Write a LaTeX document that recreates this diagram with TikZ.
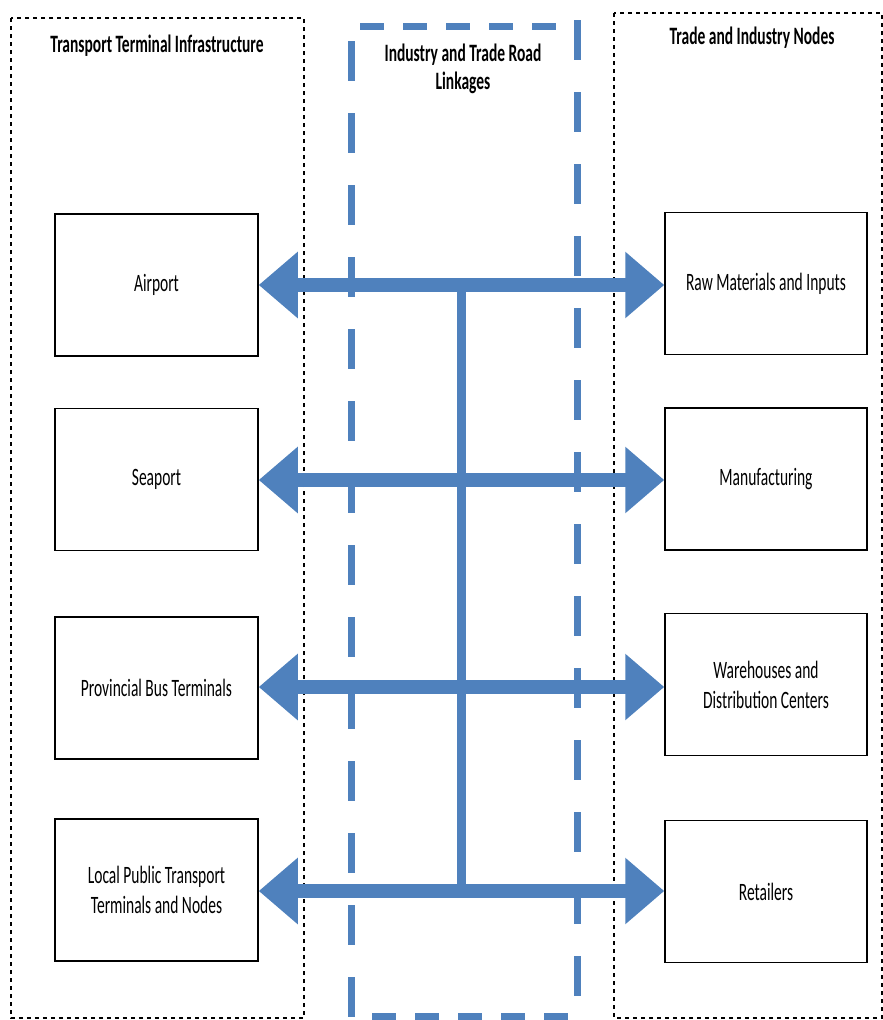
\documentclass[tikz,border=0pt]{standalone}
\usepackage{fontspec}
\newfontfamily\diagfont{Carlito}[FakeStretch=0.62]
\usetikzlibrary{positioning,arrows.meta}
\definecolor{roadblue}{RGB}{79,129,189}

\begin{document}
\begin{tikzpicture}[x=1pt, y=-1pt,
    font=\diagfont\fontsize{25}{30}\selectfont,
    terminal/.style={draw, line width=1.5pt, minimum width=203pt, minimum height=142pt,
        inner sep=2pt, align=center},
    group/.style={draw, line width=1.1pt, dash pattern=on 4pt off 4pt},
    heading/.style={font=\diagfont\bfseries\fontsize{25}{28}\selectfont, align=center},
    road/.style={draw=roadblue, line width=14pt, -{Triangle[length=39pt,width=64pt]}},
    trunk/.style={draw=roadblue, line width=9pt},
    linkh/.style={draw=roadblue, line width=7pt, dash pattern=on 24pt off 19pt},
    linkv/.style={draw=roadblue, line width=7pt, dash pattern=on 40pt off 32pt}]
    \useasboundingbox (0,0) rectangle (883,1020);

    % groups
    \draw[group] (11,18) rectangle (304,1018);
    \draw[group] (614,13) rectangle (882,1018);
    \draw[linkh] (360,26) -- (560,26);
    \draw[linkh] (372,1016) -- (570,1016);
    \draw[linkv] (351,41) -- (351,1020);
    \draw[linkv] (577,20) -- (577,1006);

    \node[heading] (termhead) at (157,46) {Transport Terminal Infrastructure};
    \node[heading] (linkhead) at (463,69) {Industry and Trade Road\\Linkages};
    \node[heading] (tradehead) at (752,38) {Trade and Industry Nodes};

    % terminals
    \node[terminal] (airport) at (156.5,285) {Airport};
    \node[terminal, below=51pt of airport] (seaport) {Seaport};
    \node[terminal, below=65pt of seaport] (busterm) {Provincial Bus Terminals};
    \node[terminal, below=58.5pt of busterm] (localpt) {Local Public Transport\\Terminals and Nodes};

    % trade nodes
    \node[terminal, minimum width=202pt] (rawmat) at (766,283.5) {Raw Materials and Inputs};
    \node[terminal, minimum width=202pt, below=52pt of rawmat] (manuf) {Manufacturing};
    \node[terminal, minimum width=202pt, below=62pt of manuf] (warehouse) {Warehouses and\\Distribution Centers};
    \node[terminal, minimum width=202pt, below=63.5pt of warehouse] (retail) {Retailers};

    % road linkages
    \coordinate (j1) at (461,285);
    \coordinate (j2) at (461,480);
    \coordinate (j3) at (461,687);
    \coordinate (j4) at (461,891);
    \draw[trunk] (j1) -- (j4);
    \draw[road] (j1) -- (j1 -| airport.east);
    \draw[road] (j1) -- (j1 -| rawmat.west);
    \draw[road] (j2) -- (j2 -| seaport.east);
    \draw[road] (j2) -- (j2 -| manuf.west);
    \draw[road] (j3) -- (j3 -| busterm.east);
    \draw[road] (j3) -- (j3 -| warehouse.west);
    \draw[road] (j4) -- (j4 -| localpt.east);
    \draw[road] (j4) -- (j4 -| retail.west);
\end{tikzpicture}
\end{document}
